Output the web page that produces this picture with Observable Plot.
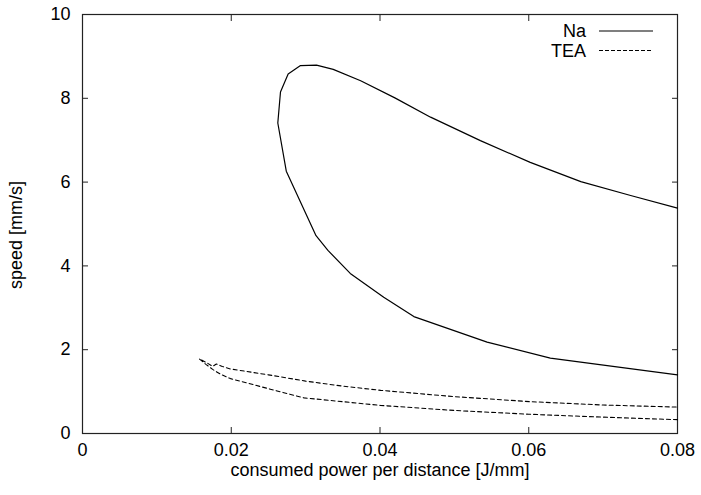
<!DOCTYPE html>
<html>
<head>
<meta charset="utf-8">
<script src="https://cdn.jsdelivr.net/npm/d3@7"></script>
<script src="https://cdn.jsdelivr.net/npm/@observablehq/plot@0.6"></script>
<style>
  html, body { margin: 0; padding: 0; background: white; }
  #chart { width: 701px; height: 495px; }
</style>
</head>
<body>
<div id="chart"></div>
<script>
// Na curve (consumed power per distance [J/mm], speed [mm/s]) in drawing order
const naX = [0.0800, 0.0629, 0.0544, 0.04455, 0.0405, 0.0360, 0.0330, 0.0314, 0.0274, 0.02626, 0.02662, 0.02765, 0.02931, 0.03146, 0.03371, 0.0374, 0.0420, 0.0468, 0.0535, 0.0602, 0.0670, 0.0737, 0.0800];
const naY = [1.40, 1.80, 2.18, 2.79, 3.25, 3.82, 4.37, 4.72, 6.26, 7.41, 8.15, 8.58, 8.78, 8.79, 8.69, 8.42, 8.01, 7.55, 6.99, 6.47, 6.01, 5.68, 5.38];

// TEA curve in drawing order
const teaX = [0.0800, 0.0700, 0.0600, 0.0500, 0.0401, 0.0298, 0.0250, 0.0199, 0.0186, 0.0175, 0.0166, 0.0157, 0.0167, 0.0175, 0.0180, 0.0188, 0.0199, 0.0250, 0.0300, 0.0350, 0.0401, 0.0500, 0.0602, 0.0700, 0.0800];
const teaY = [0.33, 0.39, 0.46, 0.55, 0.67, 0.85, 1.07, 1.31, 1.41, 1.53, 1.65, 1.78, 1.69, 1.60, 1.66, 1.60, 1.54, 1.40, 1.25, 1.13, 1.03, 0.88, 0.76, 0.68, 0.63];

const xTicks = [0, 0.02, 0.04, 0.06, 0.08];
const xTickLabels = ["0", "0.02", "0.04", "0.06", "0.08"];
const yTicks = [0, 2, 4, 6, 8, 10];
const yTickLabels = ["0", "2", "4", "6", "8", "10"];

const seriesNames = ["Na", "TEA"];
const xLabel = "consumed power per distance [J/mm]";
const yLabel = "speed [mm/s]";

const na = naX.map((x, i) => ({x, y: naY[i]}));
const tea = teaX.map((x, i) => ({x, y: teaY[i]}));

const ink = "#222";
const font = "'Liberation Sans', Arial, Helvetica, sans-serif";

const chart = Plot.plot({
  width: 701,
  height: 495,
  marginLeft: 82,
  marginRight: 24,
  marginTop: 14,
  marginBottom: 62,
  x: {domain: [0, 0.08]},
  y: {domain: [0, 10]},
  style: {fontFamily: font, fontSize: "18px", color: "black", background: "white"},
  marks: [
    Plot.axisX({anchor: "bottom", ticks: xTicks, tickSize: -6, tickPadding: 16, stroke: ink,
      tickFormat: (d) => xTickLabels[xTicks.indexOf(d)],
      label: xLabel, labelAnchor: "center", labelOffset: 42, labelArrow: "none"}),
    Plot.axisX({anchor: "top", ticks: xTicks, tickSize: -6, stroke: ink, tickFormat: () => "", label: null}),
    Plot.axisY({anchor: "left", ticks: yTicks, tickSize: -6, tickPadding: 18, stroke: ink,
      tickFormat: (d) => yTickLabels[yTicks.indexOf(d)],
      label: null}),
    Plot.axisY({anchor: "right", ticks: yTicks, tickSize: -6, stroke: ink, tickFormat: () => "", label: null}),
    Plot.frame({stroke: ink, strokeWidth: 1.2}),
    Plot.line(na, {x: "x", y: "y", stroke: "black", strokeWidth: 1.2, curve: "linear"}),
    Plot.line(tea, {x: "x", y: "y", stroke: "black", strokeWidth: 1.1, strokeDasharray: "4,3", curve: "linear"})
  ]
});

document.getElementById("chart").appendChild(chart);

const svg = d3.select(chart);

// y-axis title (rotated), placed as in the reference
svg.append("text")
  .attr("transform", "translate(16,235) rotate(-90)")
  .attr("text-anchor", "middle")
  .attr("dominant-baseline", "central")
  .attr("font-family", font)
  .attr("font-size", 18)
  .attr("fill", "black")
  .text(yLabel);

// Legend inside the plot (top right), like gnuplot's key
const leg = svg.append("g")
  .attr("font-family", font)
  .attr("font-size", 18);
const dashes = [null, "4,2"];
seriesNames.forEach((name, i) => {
  const cy = 31 + i * 19.5;
  leg.append("text")
    .attr("x", 586).attr("y", cy)
    .attr("text-anchor", "end")
    .attr("dominant-baseline", "central")
    .attr("fill", "black")
    .text(name);
  const ln = leg.append("line")
    .attr("x1", 599).attr("x2", 653)
    .attr("y1", cy).attr("y2", cy)
    .attr("stroke", "black").attr("stroke-width", 1.1);
  if (dashes[i]) ln.attr("stroke-dasharray", dashes[i]);
});
</script>
</body>
</html>
